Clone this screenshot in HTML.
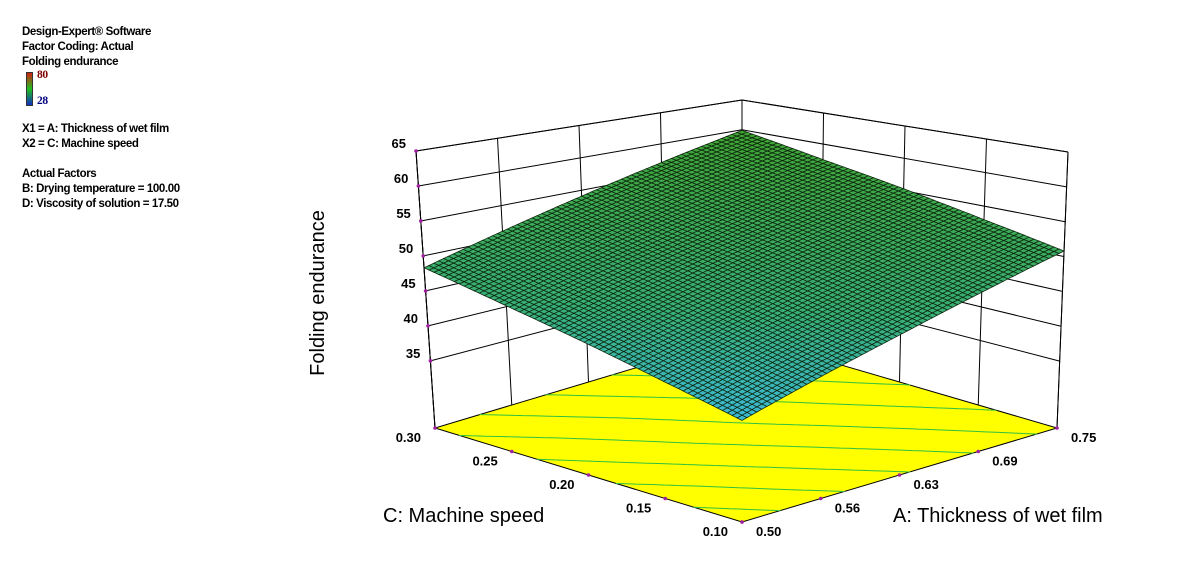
<!DOCTYPE html>
<html><head><meta charset="utf-8"><style>
body{margin:0;background:#fff;width:1189px;height:586px;overflow:hidden;font-family:"Liberation Sans",Arial,sans-serif}
.info{position:absolute;left:22px;top:25px;font-size:11.5px;font-weight:bold;line-height:15px;letter-spacing:-0.4px;color:#000}
</style></head><body>
<div class="info">
<div>Design-Expert® Software</div>
<div>Factor Coding: Actual</div>
<div>Folding endurance</div>
<div style="position:relative;height:38px">
<div style="position:absolute;left:4px;top:2px;width:5px;height:32px;border:1px solid #333;background:linear-gradient(#d02010,#20c020,#1030c0)"></div>
<div style="position:absolute;left:15px;top:-2px;color:#800000;font-family:'Liberation Serif',serif">80</div>
<div style="position:absolute;left:15px;top:24px;color:#000080;font-family:'Liberation Serif',serif">28</div>
</div>
<div style="height:14px"></div>
<div>X1 = A: Thickness of wet film</div>
<div>X2 = C: Machine speed</div>
<div style="height:15px"></div>
<div>Actual Factors</div>
<div>B: Drying temperature = 100.00</div>
<div>D: Viscosity of solution = 17.50</div>
</div>
<svg id="chart" width="1189" height="586" style="position:absolute;left:0;top:0"></svg>
<script>
const aTicks=["0.50","0.56","0.63","0.69","0.75"];
const cTicks=["0.10","0.15","0.20","0.25","0.30"];
const zTicks=[35,40,45,50,55,60,65];
// surface values: rows = C (0.10..0.30), cols = A (0.50..0.75)
const zRow010=[38.5,41.6,44.6,47.7,50.8];
const zRow015=[40.9,44.0,47.0,50.0,53.0];
const zRow020=[43.4,46.4,49.4,52.3,55.3];
const zRow025=[45.8,48.7,51.6,54.5,57.5];
const zRow030=[48.3,51.2,54.1,57.0,59.9];
const zGrid=[zRow010,zRow015,zRow020,zRow025,zRow030];
const contourLevels=[40,42.5,45,47.5,50,52.5,55,57.5];

const svg=document.getElementById('chart');
const NS='http://www.w3.org/2000/svg';
const ZF=25.4,ZT=65;
const F0={f:[742,522],r:[1057,428],l:[435,428],b:[742,336]};
const T0={f:[742,215],r:[1068,152],l:[416,151],b:[742,100]};
function bil(c,u,v){return[
 c.f[0]*(1-u)*(1-v)+c.r[0]*u*(1-v)+c.l[0]*(1-u)*v+c.b[0]*u*v,
 c.f[1]*(1-u)*(1-v)+c.r[1]*u*(1-v)+c.l[1]*(1-u)*v+c.b[1]*u*v]}
function P(u,v,z){const w=(z-ZF)/(ZT-ZF);const a=bil(F0,u,v),b=bil(T0,u,v);return[a[0]+(b[0]-a[0])*w,a[1]+(b[1]-a[1])*w]}
function zAt(u,v){const n=zGrid.length-1,m=zGrid[0].length-1;
 let i=Math.min(Math.floor(v*n),n-1),j=Math.min(Math.floor(u*m),m-1);
 const fv=v*n-i,fu=u*m-j;
 return zGrid[i][j]*(1-fu)*(1-fv)+zGrid[i][j+1]*fu*(1-fv)+zGrid[i+1][j]*(1-fu)*fv+zGrid[i+1][j+1]*fu*fv}
function el(t,a,parent){const e=document.createElementNS(NS,t);for(const k in a)e.setAttribute(k,a[k]);(parent||svg).appendChild(e);return e}
function line(p,q,g,c,w){return el('line',{x1:p[0],y1:p[1],x2:q[0],y2:q[1],stroke:c||'#000','stroke-width':w||1},g)}

const walls=el('g',{});


for(const z of zTicks){line(P(0,1,z),P(1,1,z),walls);line(P(1,1,z),P(1,0,z),walls);}
for(let i=0;i<aTicks.length;i++){const u=i/(aTicks.length-1);line(P(u,1,ZF),P(u,1,ZT),walls);}
for(let i=0;i<cTicks.length;i++){const v=i/(cTicks.length-1);line(P(1,v,ZF),P(1,v,ZT),walls);}
line(P(0,1,ZF),P(0,1,ZT),walls);line(P(1,0,ZF),P(1,0,ZT),walls);

const fl=el('g',{});


const c=[P(0,0,ZF),P(1,0,ZF),P(1,1,ZF),P(0,1,ZF)];
el('polygon',{points:c.map(p=>p.join(',')).join(' '),fill:'#ffff00',stroke:'#000','stroke-width':1},fl);
const N=40;
for(const L of contourLevels){
 const segs=[];
 for(let i=0;i<N;i++)for(let j=0;j<N;j++){
  const pts=[[j/N,i/N],[(j+1)/N,i/N],[(j+1)/N,(i+1)/N],[j/N,(i+1)/N]];
  const zs=pts.map(p=>zAt(p[0],p[1])+1e-7);const hits=[];
  for(let k=0;k<4;k++){const a=zs[k],b=zs[(k+1)%4];
   if((a>=L)!==(b>=L)){const t=(L-a)/(b-a);const p=pts[k],q=pts[(k+1)%4];hits.push([p[0]+(q[0]-p[0])*t,p[1]+(q[1]-p[1])*t]);}}
  if(hits.length>=2){const p=P(hits[0][0],hits[0][1],ZF),q=P(hits[1][0],hits[1][1],ZF);segs.push(`M${p[0].toFixed(1)},${p[1].toFixed(1)}L${q[0].toFixed(1)},${q[1].toFixed(1)}`);}
 }
 el('path',{d:segs.join(''),stroke:'#30c040','stroke-width':1,fill:'none','stroke-linecap':'round'},fl);
}

const sf=el('g',{});


function col(z){const t=Math.max(0,Math.min(1,((z-38)/22)));
 let r,g,b;
 if(t<0.35){const s=t/0.35;r=Math.round(60-5*s);g=Math.round(185-10*s);b=Math.round(220-100*s);}
 else{const s=(t-0.35)/0.65;r=Math.round(55+10*s);g=Math.round(175-10*s);b=Math.round(120-70*s);}
 return`rgb(${r},${g},${b})`}
const M=64;const cells=[];
for(let i=0;i<M;i++)for(let j=0;j<M;j++)cells.push([i,j]);
cells.sort((a,b)=>(b[0]+(M-b[1]))-(a[0]+(M-a[1])));
for(const [i,j] of cells){
 const q=[[j/M,i/M],[(j+1)/M,i/M],[(j+1)/M,(i+1)/M],[j/M,(i+1)/M]];
 const pp=q.map(p=>P(p[0],p[1],zAt(p[0],p[1])));
 const zc=zAt((j+.5)/M,(i+.5)/M);
 el('polygon',{points:pp.map(p=>p[0].toFixed(1)+','+p[1].toFixed(1)).join(' '),fill:col(zc),stroke:'#0c240c','stroke-width':0.75},sf);
}
line(P(0,1,ZT),P(1,1,ZT));line(P(1,1,ZT),P(1,0,ZT));
line(P(0,1,ZF),P(0,1,ZT));

const ax=el('g',{'font-family':'Liberation Sans, Arial, sans-serif','font-size':'13','font-weight':'bold'});


for(const z of zTicks){const p=P(0,1,z);el('circle',{cx:p[0],cy:p[1],r:1.8,fill:'#a020a0'},ax);
 const t=el('text',{x:p[0]-10,y:p[1]-3,'text-anchor':'end'},ax);t.textContent=z;
 
 }
for(let i=0;i<cTicks.length;i++){const p=P(0,i/(cTicks.length-1),ZF);el('circle',{cx:p[0],cy:p[1],r:1.8,fill:'#a020a0'},ax);
 const t=el('text',{x:p[0]-14,y:p[1]+14,'text-anchor':'end'},ax);t.textContent=cTicks[i];
 
 }
for(let i=0;i<aTicks.length;i++){const p=P(i/(aTicks.length-1),0,ZF);el('circle',{cx:p[0],cy:p[1],r:1.8,fill:'#a020a0'},ax);
 const t=el('text',{x:p[0]+14,y:p[1]+14,'text-anchor':'start'},ax);t.textContent=aTicks[i];
 
 }
const zt=el('text',{x:0,y:0,transform:'translate(324,293) rotate(-90)','text-anchor':'middle','font-size':'20','font-family':'Liberation Sans, Arial, sans-serif'});
zt.textContent='Folding endurance';


const ct=el('text',{x:383,y:522,'font-size':'20','font-family':'Liberation Sans, Arial, sans-serif'});
ct.textContent='C: Machine speed';


const at=el('text',{x:893,y:522,'font-size':'20','font-family':'Liberation Sans, Arial, sans-serif'});
at.textContent='A: Thickness of wet film';


</script>
</body></html>
